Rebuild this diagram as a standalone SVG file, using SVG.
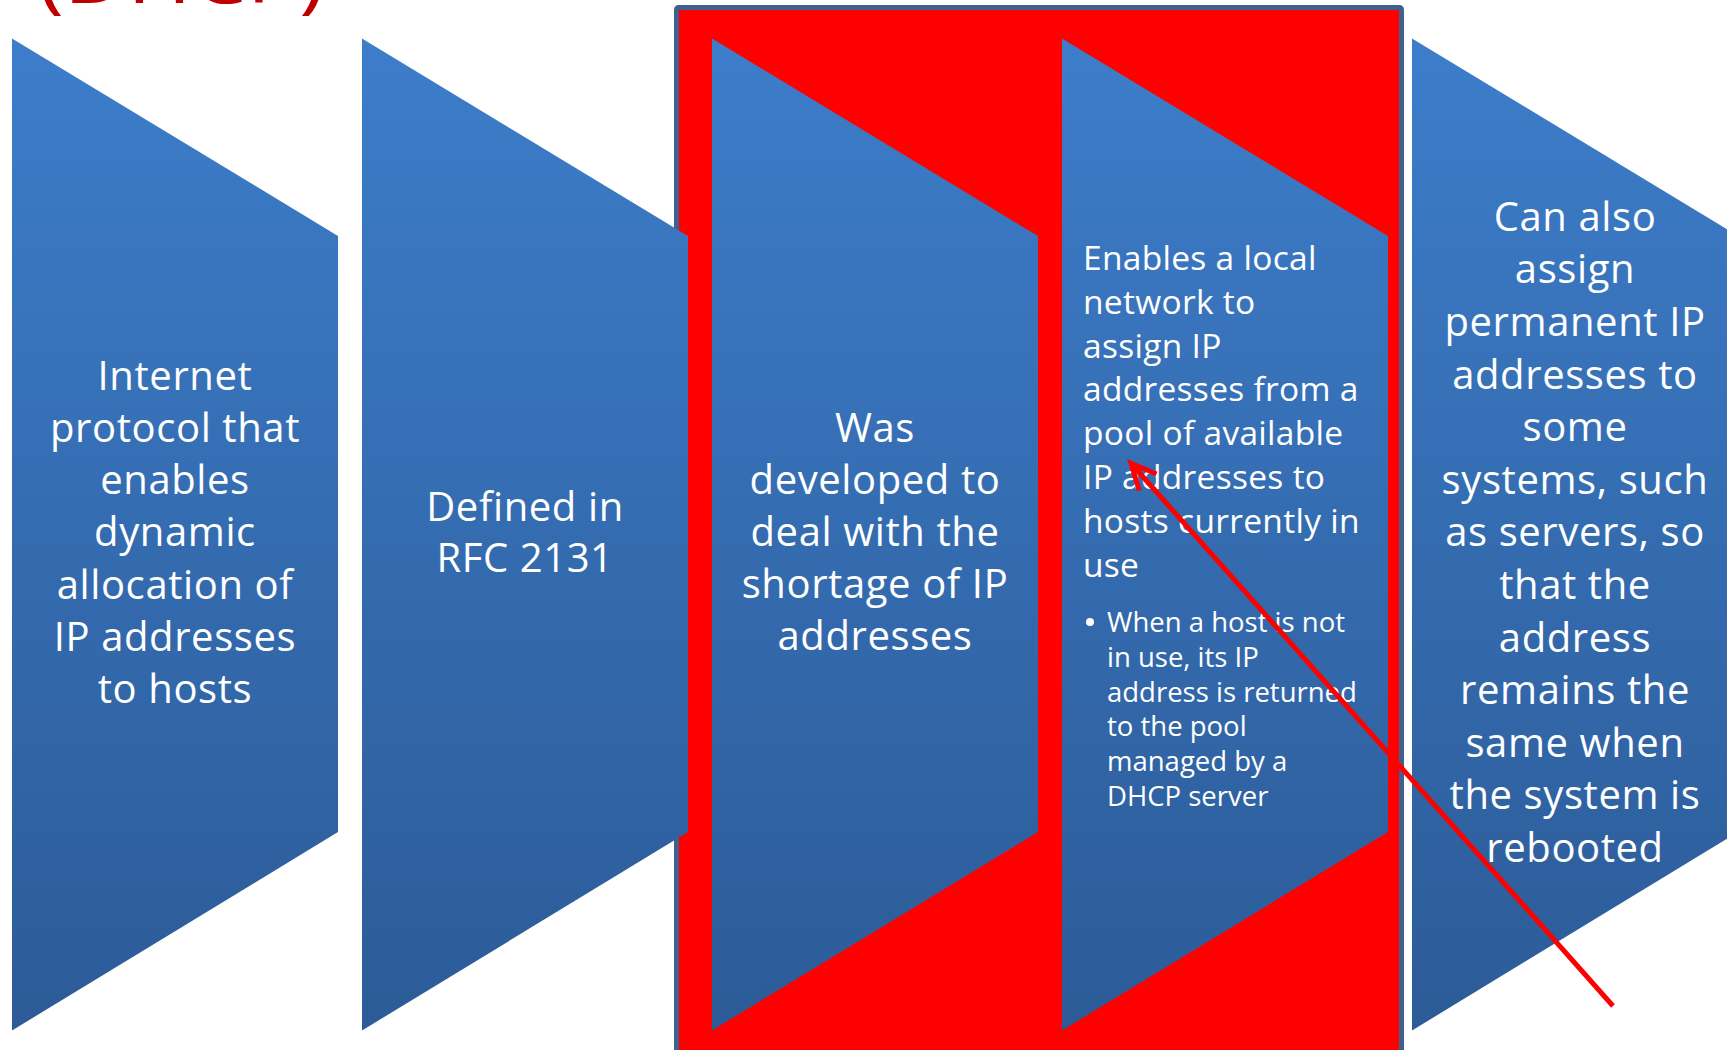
<svg xmlns="http://www.w3.org/2000/svg" width="1727" height="1050" viewBox="0 0 1727 1050">
  <defs>
    <linearGradient id="chevFill" gradientUnits="userSpaceOnUse" x1="0" y1="38" x2="0" y2="1031">
      <stop offset="0" stop-color="#3D7DCA"/>
      <stop offset="1" stop-color="#2C5B97"/>
    </linearGradient>
    <style>
      .chev { fill: url(#chevFill); }
      .big { font-family: "Open Sans", "Noto Sans", sans-serif; font-size: 40px; letter-spacing: 0.6px; fill: #FFFFFF; text-anchor: middle; }
      .mid { font-family: "Open Sans", "Noto Sans", sans-serif; font-size: 33.5px; letter-spacing: 0.3px; fill: #FFFFFF; }
      .small { font-family: "Open Sans", "Noto Sans", sans-serif; font-size: 27.5px; fill: #FFFFFF; }
      .title { font-family: "Open Sans", "Noto Sans", sans-serif; font-size: 80px; fill: #C00000; }
      .annot { fill: none; stroke: #FF0000; stroke-width: 5; }
    </style>
  </defs>

  <rect x="0" y="0" width="1727" height="1050" fill="#FFFFFF"/>

  <g id="title">
    <text class="title" x="38" y="3" textLength="287" lengthAdjust="spacingAndGlyphs">(DHCP)</text>
  </g>

  <g id="highlight-box">
    <rect x="676.5" y="7.5" width="725" height="1060" rx="2" fill="#FF0000" stroke="#40618E" stroke-width="5"/>
  </g>

  <g id="chevron-1">
    <polygon class="chev" points="12,38.5 338,236 338,832 12,1030.5"/>
    <text class="big" x="175" y="389.5">Internet</text>
    <text class="big" x="175" y="441.8">protocol that</text>
    <text class="big" x="175" y="494.1">enables</text>
    <text class="big" x="175" y="546.4">dynamic</text>
    <text class="big" x="175" y="598.7">allocation of</text>
    <text class="big" x="175" y="651">IP addresses</text>
    <text class="big" x="175" y="703.3">to hosts</text>
  </g>

  <g id="chevron-2">
    <polygon class="chev" points="362,38.5 688,236 688,832 362,1030.5"/>
    <text class="big" x="525" y="520.7">Defined in</text>
    <text class="big" x="525" y="571.7">RFC 2131</text>
  </g>

  <g id="chevron-3">
    <polygon class="chev" points="712,38.5 1038,236 1038,832 712,1030.5"/>
    <text class="big" x="875" y="441.7">Was</text>
    <text class="big" x="875" y="493.8">developed to</text>
    <text class="big" x="875" y="545.9">deal with the</text>
    <text class="big" x="875" y="598">shortage of IP</text>
    <text class="big" x="875" y="650.1">addresses</text>
  </g>

  <g id="chevron-4">
    <polygon class="chev" points="1062,38.5 1388,236 1388,832 1062,1030.5"/>
    <text class="mid" x="1083" y="270">Enables a local</text>
    <text class="mid" x="1083" y="313.8">network to</text>
    <text class="mid" x="1083" y="357.6">assign IP</text>
    <text class="mid" x="1083" y="401.4">addresses from a</text>
    <text class="mid" x="1083" y="445.2">pool of available</text>
    <text class="mid" x="1083" y="489">IP addresses to</text>
    <text class="mid" x="1083" y="532.8">hosts currently in</text>
    <text class="mid" x="1083" y="576.6">use</text>
    <circle cx="1090" cy="622" r="4" fill="#FFFFFF"/>
    <text class="small" x="1107" y="631.7">When a host is not</text>
    <text class="small" x="1107" y="666.6">in use, its IP</text>
    <text class="small" x="1107" y="701.5">address is returned</text>
    <text class="small" x="1107" y="736.4">to the pool</text>
    <text class="small" x="1107" y="771.3">managed by a</text>
    <text class="small" x="1107" y="806.2">DHCP server</text>
  </g>

  <g id="chevron-5">
    <polygon class="chev" points="1412,38.5 1738,236 1738,832 1412,1030.5"/>
    <text class="big" x="1575" y="230.7">Can also</text>
    <text class="big" x="1575" y="283.3">assign</text>
    <text class="big" x="1575" y="335.9">permanent IP</text>
    <text class="big" x="1575" y="388.5">addresses to</text>
    <text class="big" x="1575" y="441.1">some</text>
    <text class="big" x="1575" y="493.7">systems, such</text>
    <text class="big" x="1575" y="546.3">as servers, so</text>
    <text class="big" x="1575" y="598.9">that the</text>
    <text class="big" x="1575" y="651.5">address</text>
    <text class="big" x="1575" y="704.1">remains the</text>
    <text class="big" x="1575" y="756.7">same when</text>
    <text class="big" x="1575" y="809.3">the system is</text>
    <text class="big" x="1575" y="861.9">rebooted</text>
  </g>

  <g id="connectors">
    <line class="annot" x1="1613" y1="1006" x2="1132" y2="464.5"/>
    <path class="annot" d="M1156.5,474 L1131,463.3 L1139.3,490.5" stroke-linejoin="miter"/>
  </g>
</svg>
